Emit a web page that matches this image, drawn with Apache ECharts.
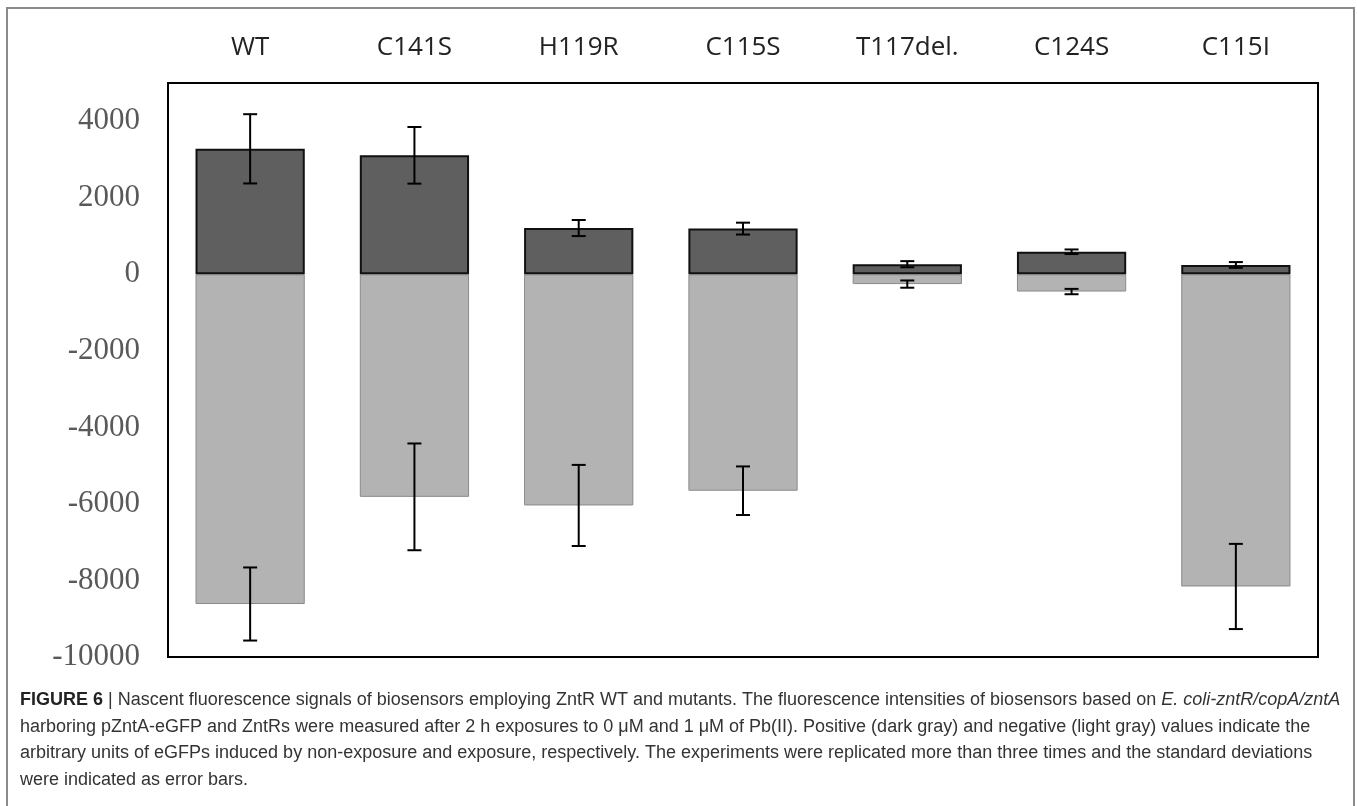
<!DOCTYPE html>
<html>
<head>
<meta charset="utf-8">
<script src="https://cdn.jsdelivr.net/npm/echarts@6/dist/echarts.min.js"></script>
<style>
html,body{margin:0;padding:0;background:#fff;}
#main{width:1357px;height:806px;}
</style>
</head>
<body>
<div id="main"></div>
<script>
// ---- data ----
var categories = ['WT', 'C141S', 'H119R', 'C115S', 'T117del.', 'C124S', 'C115I'];
var positiveValues = [3280, 3110, 1210, 1195, 265, 590, 245];      // non-exposure (dark gray)
var positiveErrors = [905, 740, 210, 155, 80, 60, 75];
var negativeValues = [-8615, -5815, -6040, -5655, -255, -450, -8157]; // exposure (light gray)
var negativeErrors = [955, 1395, 1060, 635, 95, 70, 1113];
var yTicks = {min: -10000, max: 5000, interval: 2000};

var captionLines = [
  ['FIGURE 6', ' | Nascent fluorescence signals of biosensors employing ZntR WT and mutants. The fluorescence intensities of biosensors based on ', 'E. coli-zntR/copA/zntA'],
  ['', 'harboring pZntA-eGFP and ZntRs were measured after 2 h exposures to 0 \u03bcM and 1 \u03bcM of Pb(II). Positive (dark gray) and negative (light gray) values indicate the', ''],
  ['', 'arbitrary units of eGFPs induced by non-exposure and exposure, respectively. The experiments were replicated more than three times and the standard deviations', ''],
  ['', 'were indicated as error bars.', '']
];

// ---- chart ----
var chart = echarts.init(document.getElementById('main'), null, {renderer: 'canvas'});

function errData(vals, errs) {
  return vals.map(function (v, i) { return [i, v, errs[i]]; });
}

function renderErr(params, api) {
  var i = api.value(0), v = api.value(1), e = api.value(2);
  var hi = api.coord([i, v + e]);
  var lo = api.coord([i, v - e]);
  var cap = 7;
  var st = {stroke: '#000', lineWidth: 2};
  return {
    type: 'group',
    children: [
      {type: 'line', shape: {x1: hi[0], y1: hi[1], x2: lo[0], y2: lo[1]}, style: st},
      {type: 'line', shape: {x1: hi[0] - cap, y1: hi[1], x2: hi[0] + cap, y2: hi[1]}, style: st},
      {type: 'line', shape: {x1: lo[0] - cap, y1: lo[1], x2: lo[0] + cap, y2: lo[1]}, style: st}
    ]
  };
}

var captionFont = 'Liberation Sans';
var captionSize = 18;
var captionY = [700, 727, 753, 780];
var captionGraphics = captionLines.map(function (parts, k) {
  var t = '';
  if (parts[0]) t += '{b|' + parts[0] + '}';
  t += '{n|' + parts[1] + '}';
  if (parts[2]) t += '{i|' + parts[2] + '}';
  return {
    type: 'text',
    left: 20,
    top: captionY[k] - 9,
    style: {
      text: t,
      rich: {
        b: {fontFamily: captionFont, fontSize: captionSize, fontWeight: 'bold', fill: '#222'},
        n: {fontFamily: captionFont, fontSize: captionSize, fill: '#333'},
        i: {fontFamily: captionFont, fontSize: captionSize, fontStyle: 'italic', fill: '#333'}
      }
    }
  };
});

var option = {
  animation: false,
  backgroundColor: '#fff',
  grid: {left: 168, right: 39, top: 83, bottom: 149, show: true, borderColor: '#000', borderWidth: 2, backgroundColor: 'transparent'},
  xAxis: {
    type: 'category',
    data: categories,
    position: 'top',
    axisLine: {show: false},
    axisTick: {show: false},
    axisLabel: {margin: 20, fontFamily: 'Open Sans', fontSize: 26, color: '#222', lineHeight: 30}
  },
  yAxis: {
    type: 'value',
    min: yTicks.min,
    max: yTicks.max,
    interval: yTicks.interval,
    axisLine: {show: false},
    axisTick: {show: false},
    splitLine: {show: false},
    axisLabel: {
      showMaxLabel: false, margin: 28, fontFamily: 'Liberation Serif', fontSize: 31, color: '#595959',
      formatter: function (v) { return String(v); }
    }
  },
  series: [
    {
      name: 'exposure',
      type: 'bar',
      data: negativeValues,
      barWidth: '66.5%',
      barGap: '-100%',
      itemStyle: {color: '#b3b3b3', borderColor: '#8a8a8a', borderWidth: 1},
      z: 2
    },
    {
      name: 'non-exposure',
      type: 'bar',
      data: positiveValues,
      barWidth: '66.5%',
      barGap: '-100%',
      itemStyle: {color: '#5f5f5f', borderColor: '#111', borderWidth: 2},
      z: 3
    },
    {
      type: 'custom',
      data: errData(positiveValues, positiveErrors),
      renderItem: renderErr,
      encode: {x: 0, y: 1},
      z: 5
    },
    {
      type: 'custom',
      data: errData(negativeValues, negativeErrors),
      renderItem: renderErr,
      encode: {x: 0, y: 1},
      z: 5
    }
  ],
  graphic: [
    {type: 'polyline', shape: {points: [[7, 806], [7, 8], [1354, 8], [1354, 806]]}, style: {stroke: '#8a8a8a', lineWidth: 2, fill: null}, silent: true}
  ].concat(captionGraphics)
};

chart.setOption(option);
</script>
</body>
</html>
